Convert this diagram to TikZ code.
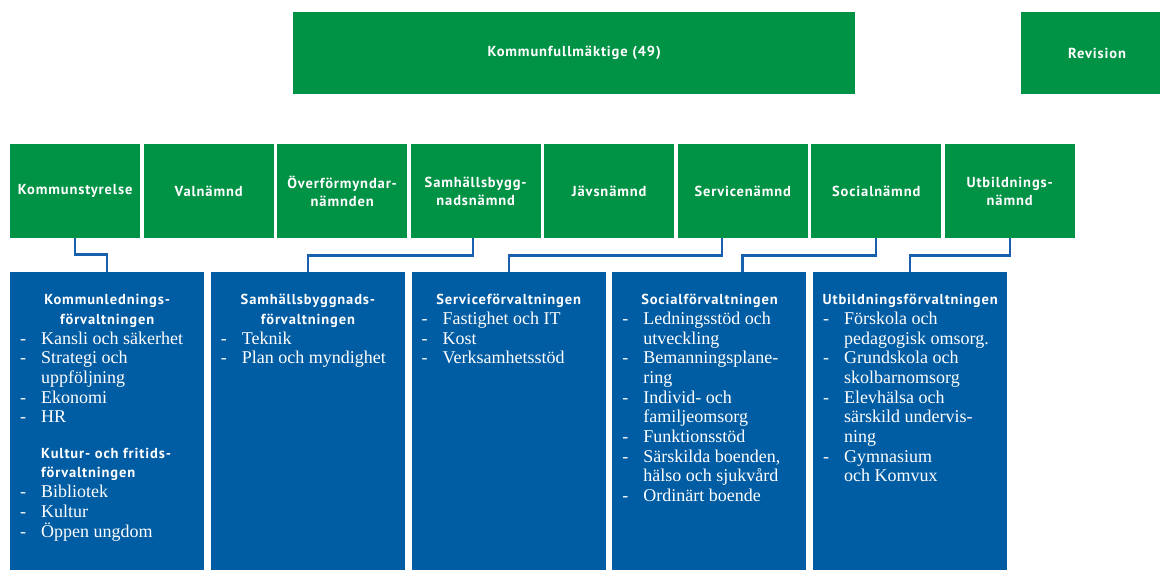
\documentclass[tikz,border=0pt]{standalone}
\usepackage{fontspec}
\setmainfont{Liberation Serif}
\newfontfamily\hfont[LetterSpace=6]{PT Sans}
\definecolor{kgreen}{RGB}{0,146,69}
\definecolor{kblue}{RGB}{0,92,163}
\definecolor{kline}{RGB}{24,96,172}
\newcommand{\hd}{\hfont\bfseries\fontsize{14.5}{19.7}\selectfont}
\newcommand{\dd}{\makebox[21pt][l]{-}}
\newcommand{\hc}[1]{\multicolumn{2}{@{}l@{}}{\makebox[174pt][c]{\hd #1}}}
\tikzset{
  gbox/.style={fill=kgreen, draw=none, text=white, inner sep=0pt, anchor=north west,
    minimum height=94pt, minimum width=130pt, align=center,
    font=\hfont\bfseries\fontsize{14.5}{18.5}\selectfont},
  topbox/.style={fill=kgreen, draw=none, inner sep=0pt, anchor=north west, minimum height=82pt},
  toplabel/.style={text=white, inner sep=0pt, font=\hfont\bfseries\fontsize{14.5}{18}\selectfont},
  bbox/.style={fill=kblue, draw=none, inner sep=0pt, anchor=north west,
    minimum width=194pt, minimum height=310pt},
  btext/.style={text=white, inner sep=0pt, anchor=north west,
    font=\fontsize{18}{19.7}\selectfont},
  conn/.style={draw=kline, line width=2.2pt},
}
\begin{document}
\begin{tikzpicture}[x=1pt,y=-1pt]
\clip (0,0) rectangle (1160,570);
\fill[white] (0,0) rectangle (1160,570);

% top row
\node[topbox, minimum width=562pt] (kf) at (293,12) {};
\node[toplabel] (kfl) at (kf.center) {Kommunfullmäktige (49)};
\node[topbox, minimum width=152pt] (rev) at (1021,12) {};
\node[toplabel] (revl) at (1097,53) {Revision};

% green row
\node[gbox] (ks) at (10,144) {Kommunstyrelse};
\node[gbox] (vn) at (143.5,144) {Valnämnd};
\node[gbox] (of) at (277,144) {Överförmyndar-\\nämnden};
\node[gbox] (sb) at (410.5,144) {Samhällsbygg-\\nadsnämnd};
\node[gbox] (jv) at (544,144) {Jävsnämnd};
\node[gbox] (sv) at (677.5,144) {Servicenämnd};
\node[gbox] (so) at (811,144) {Socialnämnd};
\node[gbox] (ub) at (944.5,144) {Utbildnings-\\nämnd};

% blue boxes
\node[bbox] (b1) at (10,272) {};
\node[bbox] (b2) at (210.75,272) {};
\node[bbox] (b3) at (411.5,272) {};
\node[bbox] (b4) at (612.25,272) {};
\node[bbox] (b5) at (813,272) {};

% connectors
\draw[conn] (ks.south) -- ++(0,16) -| (b1.north);
\draw[conn] ([xshift=-3pt]sb.south) -- ++(0,17) -| (b2.north);
\draw[conn] ([xshift=-21pt]sv.south) -- ++(0,17) -| (b3.north);
\draw[conn] (so.south) -- ++(0,17) -| ([xshift=33pt]b4.north);
\draw[conn] (ub.south) -- ++(0,17) -| (b5.north);

% texts
\node[btext] (t1) at (20,290.7) {\begin{tabular}{@{}l@{}l@{}}
\hc{Kommunlednings-}\\
\hc{förvaltningen}\\
\dd & Kansli och säkerhet\\
\dd & Strategi och\\
 & uppföljning\\
\dd & Ekonomi\\
\dd & HR\\
 & \\[-4pt]
 & \hd Kultur- och fritids-\\
 & \hd förvaltningen\\
\dd & Bibliotek\\
\dd & Kultur\\
\dd & Öppen ungdom
\end{tabular}};

\node[btext] (t2) at (220.75,290.7) {\begin{tabular}{@{}l@{}l@{}}
\hc{Samhällsbyggnads-}\\
\hc{förvaltningen}\\
\dd & Teknik\\
\dd & Plan och myndighet
\end{tabular}};

\node[btext] (t3) at (421.5,290.7) {\begin{tabular}{@{}l@{}l@{}}
\hc{Serviceförvaltningen}\\
\dd & Fastighet och IT\\
\dd & Kost\\
\dd & Verksamhetsstöd
\end{tabular}};

\node[btext] (t4) at (622.25,290.7) {\begin{tabular}{@{}l@{}l@{}}
\hc{Socialförvaltningen}\\
\dd & Ledningsstöd och\\
 & utveckling\\
\dd & Bemanningsplane-\\
 & ring\\
\dd & Individ- och\\
 & familjeomsorg\\
\dd & Funktionsstöd\\
\dd & Särskilda boenden,\\
 & hälso och sjukvård\\
\dd & Ordinärt boende
\end{tabular}};

\node[btext] (t5) at (823,290.7) {\begin{tabular}{@{}l@{}l@{}}
\hc{Utbildningsförvaltningen}\\
\dd & Förskola och\\
 & pedagogisk omsorg.\\
\dd & Grundskola och\\
 & skolbarnomsorg\\
\dd & Elevhälsa och\\
 & särskild undervis-\\
 & ning\\
\dd & Gymnasium\\
 & och Komvux
\end{tabular}};
\end{tikzpicture}
\end{document}
